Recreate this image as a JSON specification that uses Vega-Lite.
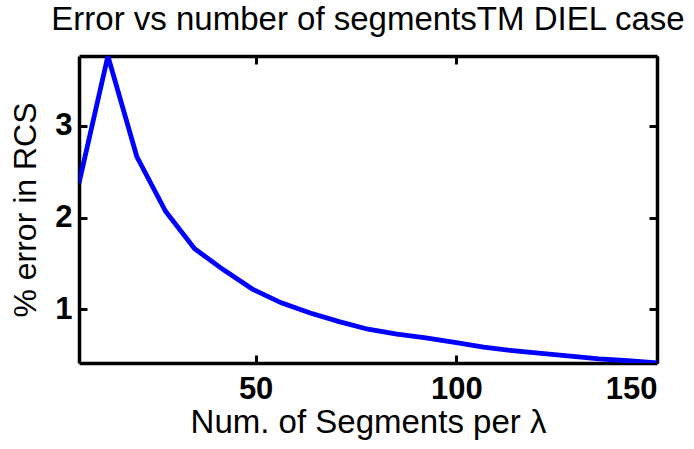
{
  "$schema": "https://vega.github.io/schema/vega-lite/v6.json",
  "width": 578,
  "height": 307,
  "autosize": {"type": "none"},
  "padding": {"left": 79, "top": 56, "right": 37, "bottom": 86},
  "background": "white",
  "title": {
    "text": "Error vs number of segmentsTM DIEL case",
    "font": "Liberation Sans",
    "fontSize": 33,
    "fontWeight": "normal",
    "color": "black",
    "anchor": "middle",
    "offset": 18
  },
  "data": {
    "values": [
      {"seg": 6, "err": 2.375},
      {"seg": 13.2, "err": 3.76},
      {"seg": 20.4, "err": 2.665},
      {"seg": 27.6, "err": 2.065},
      {"seg": 34.8, "err": 1.66},
      {"seg": 42, "err": 1.43},
      {"seg": 49.2, "err": 1.22},
      {"seg": 56.4, "err": 1.07},
      {"seg": 63.6, "err": 0.96},
      {"seg": 70.8, "err": 0.866},
      {"seg": 78, "err": 0.783},
      {"seg": 85.2, "err": 0.73},
      {"seg": 92.4, "err": 0.69},
      {"seg": 99.6, "err": 0.64},
      {"seg": 106.8, "err": 0.587},
      {"seg": 114, "err": 0.55},
      {"seg": 121.2, "err": 0.52},
      {"seg": 128.4, "err": 0.49},
      {"seg": 135.6, "err": 0.46},
      {"seg": 142.8, "err": 0.44},
      {"seg": 150, "err": 0.415}
    ]
  },
  "layer": [
    {
      "mark": {"type": "line", "color": "#0000ff", "strokeWidth": 4.8, "clip": true},
      "encoding": {
        "x": {
          "field": "seg", "type": "quantitative",
          "scale": {"domain": [6, 150], "nice": false, "zero": false},
          "axis": {
            "orient": "bottom",
            "values": [50, 100, 150],
            "labelPadding": 19,
            "title": "Num. of Segments per λ",
            "titleFontSize": 33,
            "titlePadding": 2
          }
        },
        "y": {
          "field": "err", "type": "quantitative",
          "scale": {"domain": [0.415, 3.76], "nice": false, "zero": false},
          "axis": {
            "orient": "left",
            "values": [1, 2, 3],
            "labelPadding": 15,
            "title": "% error in RCS",
            "titlePadding": 12
          }
        }
      }
    },
    {
      "mark": {"type": "line", "opacity": 0},
      "encoding": {
        "x": {
          "field": "seg", "type": "quantitative",
          "scale": {"domain": [6, 150], "nice": false, "zero": false},
          "axis": {"orient": "top", "values": [50, 100, 150], "labels": false, "title": null}
        },
        "y": {
          "field": "err", "type": "quantitative",
          "scale": {"domain": [0.415, 3.76], "nice": false, "zero": false},
          "axis": {"orient": "right", "values": [1, 2, 3], "labels": false, "title": null}
        }
      }
    }
  ],
  "resolve": {"scale": {"x": "independent", "y": "independent"}},
  "config": {
    "view": {"stroke": null},
    "axis": {
      "grid": false,
      "domain": true,
      "domainColor": "black",
      "domainWidth": 3.5,
      "ticks": true,
      "tickColor": "black",
      "tickWidth": 3,
      "tickSize": -8,
      "labelFont": "Liberation Sans",
      "labelFontSize": 31,
      "labelFontWeight": "bold",
      "labelColor": "black",
      "titleFont": "Liberation Sans",
      "titleFontSize": 32,
      "titleFontWeight": "normal",
      "titleColor": "black"
    }
  }
}
